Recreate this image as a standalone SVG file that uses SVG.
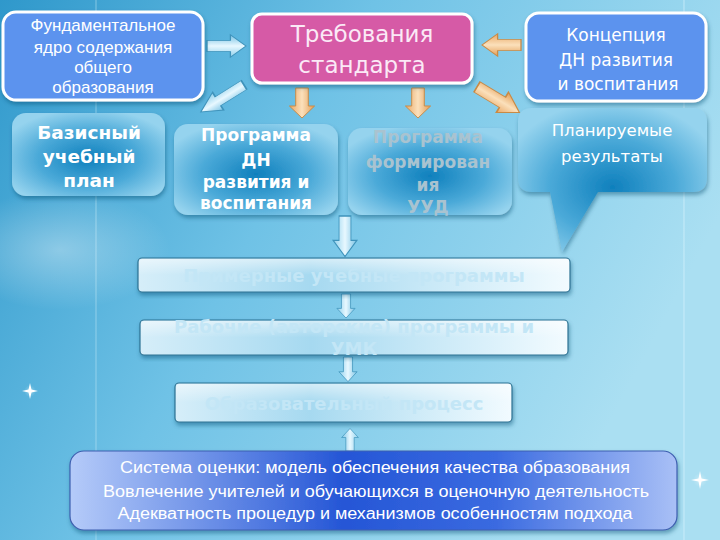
<svg xmlns="http://www.w3.org/2000/svg" width="720" height="540" viewBox="0 0 720 540">
<defs>
  <linearGradient id="bg" x1="0" y1="0" x2="1" y2="0.4">
    <stop offset="0" stop-color="#2f98cb"/>
    <stop offset="0.45" stop-color="#6fc2e6"/>
    <stop offset="1" stop-color="#aadff2"/>
  </linearGradient>
  <radialGradient id="glow" cx="0.5" cy="0.5" r="0.5">
    <stop offset="0" stop-color="#ffffff" stop-opacity="0.35"/>
    <stop offset="1" stop-color="#ffffff" stop-opacity="0"/>
  </radialGradient>
  <radialGradient id="tile" cx="0.5" cy="0.55" r="0.6">
    <stop offset="0" stop-color="#0f80bd"/>
    <stop offset="0.55" stop-color="#4aa9d8"/>
    <stop offset="1" stop-color="#95d3ee"/>
  </radialGradient>
  <linearGradient id="bar" x1="0" y1="0" x2="1" y2="0">
    <stop offset="0" stop-color="#d6eef9"/>
    <stop offset="0.4" stop-color="#a6d9f0"/>
    <stop offset="1" stop-color="#f2fbff"/>
  </linearGradient>
  <linearGradient id="barV" x1="0" y1="0" x2="0" y2="1">
    <stop offset="0" stop-color="#ffffff" stop-opacity="0.5"/>
    <stop offset="0.5" stop-color="#ffffff" stop-opacity="0"/>
  </linearGradient>
  <linearGradient id="eval" x1="0" y1="0" x2="1" y2="0">
    <stop offset="0" stop-color="#b5cbf9"/>
    <stop offset="0.45" stop-color="#2556d6"/>
    <stop offset="0.7" stop-color="#3a6ae0"/>
    <stop offset="1" stop-color="#a9c0f6"/>
  </linearGradient>
  <linearGradient id="orange" x1="0" y1="0" x2="1" y2="0">
    <stop offset="0" stop-color="#e9a866"/>
    <stop offset="0.5" stop-color="#fbe0bb"/>
    <stop offset="1" stop-color="#e39d55"/>
  </linearGradient>
  <linearGradient id="blueArr" x1="0" y1="0" x2="1" y2="0">
    <stop offset="0" stop-color="#8fd0ec"/>
    <stop offset="0.5" stop-color="#e8f8ff"/>
    <stop offset="1" stop-color="#78c2e4"/>
  </linearGradient>
  <filter id="sh" x="-10%" y="-10%" width="120%" height="130%">
    <feDropShadow dx="1" dy="3" stdDeviation="2" flood-color="#0a4a70" flood-opacity="0.45"/>
  </filter>
  <path id="arrDown" d="M-7,0 H7 V18 H14 L0,30 L-14,18 H-7 Z"/>
  <style>
    .white-box{fill:#5b93ee;stroke:#ffffff;stroke-width:3;filter:url(#sh)}
    .pink{fill:#d65aa6;stroke:#ffffff;stroke-width:3;filter:url(#sh)}
    .tile{fill:url(#tile);filter:url(#sh)}
    .bar{fill:url(#bar);stroke:#2c7394;stroke-width:1.2;filter:url(#sh)}
    .eval{fill:url(#eval);stroke:#3d5fb0;stroke-width:1.2;filter:url(#sh)}
    .t{font-family:"Liberation Sans",Arial,sans-serif;fill:#ffffff;text-anchor:middle}
    .d{font-family:"DejaVu Sans",Verdana,sans-serif;text-anchor:middle}
    .b{font-family:"DejaVu Sans",Verdana,sans-serif;font-weight:bold;text-anchor:middle}
    .oa{fill:url(#orange);stroke:#c98a45;stroke-width:1}
    .ba{fill:url(#blueArr);stroke:#3f93bb;stroke-width:1}
  </style>
</defs>

<!-- background -->
<rect x="0" y="0" width="720" height="540" fill="url(#bg)"/>
<line x1="96" y1="0" x2="96" y2="540" stroke="#c8ecfa" stroke-opacity="0.5" stroke-width="1"/>
<line x1="684" y1="0" x2="684" y2="540" stroke="#e0f6ff" stroke-opacity="0.6" stroke-width="1"/>
<ellipse cx="60" cy="250" rx="110" ry="60" fill="url(#glow)"/>
<g id="sparkle1" fill="#ffffff">
  <circle cx="30" cy="391" r="6" fill="url(#glow)"/>
  <path d="M30,383 L31.5,389.5 L38,391 L31.5,392.5 L30,399 L28.5,392.5 L22,391 L28.5,389.5 Z"/>
</g>
<g id="sparkle2" fill="#ffffff">
  <circle cx="700" cy="480" r="7" fill="url(#glow)"/>
  <path d="M700,471 L701.5,478.5 L709,480 L701.5,481.5 L700,489 L698.5,481.5 L691,480 L698.5,478.5 Z"/>
</g>

<!-- connectors -->
<g id="connectors">
  <use href="#arrDown" class="ba" transform="translate(207,46) rotate(-90) scale(0.8,1.3)"/>
  <use href="#arrDown" class="oa" transform="translate(521,45) rotate(90) scale(0.8,1.3)"/>
  <use href="#arrDown" class="ba" transform="translate(244,85) rotate(58) scale(0.75,1.7)"/>
  <use href="#arrDown" class="oa" transform="translate(302,88) scale(0.9,1.0)"/>
  <use href="#arrDown" class="oa" transform="translate(418,88) scale(0.9,1.0)"/>
  <use href="#arrDown" class="oa" transform="translate(477,87) rotate(-59) scale(0.85,1.65)"/>
  <use href="#arrDown" class="ba" transform="translate(345,216) scale(0.85,1.35)"/>
  <use href="#arrDown" class="ba" transform="translate(346,294) scale(0.65,0.8)"/>
  <use href="#arrDown" class="ba" transform="translate(348,357) scale(0.65,0.82)"/>
  <use href="#arrDown" class="ba" transform="translate(350,451) rotate(180) scale(0.6,0.75)"/>
</g>

<!-- nodes -->
<g id="fundamental">
  <rect class="white-box" x="3" y="12" width="200" height="88" rx="13"/>
  <text class="t" font-size="17"><tspan x="103" y="31">Фундаментальное</tspan><tspan x="103" y="53">ядро содержания</tspan><tspan x="103" y="73">общего</tspan><tspan x="103" y="93">образования</tspan></text>
</g>

<g id="standard">
  <rect class="pink" x="252" y="14" width="220" height="69" rx="10"/>
  <text class="d" font-size="23" fill="#fbe9f6"><tspan x="362" y="42">Требования</tspan><tspan x="362" y="73">стандарта</tspan></text>
</g>

<g id="concept">
  <rect class="white-box" x="526" y="13" width="180" height="88" rx="13"/>
  <text class="d" font-size="17" fill="#ffffff"><tspan x="616" y="41">Концепция</tspan><tspan x="616" y="66">ДН развития</tspan><tspan x="618" y="90">и воспитания</tspan></text>
</g>

<g id="basic-plan">
  <rect class="tile" x="12" y="113" width="153" height="83" rx="14"/>
  <text class="b" font-size="18.5" fill="#ffffff"><tspan x="89" y="139">Базисный</tspan><tspan x="89" y="163">учебный</tspan><tspan x="89" y="187">план</tspan></text>
</g>

<g id="program-dn">
  <rect class="tile" x="174" y="124" width="164" height="91" rx="14"/>
  <text class="b" font-size="17" fill="#ffffff"><tspan x="256" y="141">Программа</tspan><tspan x="256" y="166">ДН</tspan><tspan x="256" y="188">развития и</tspan><tspan x="256" y="209">воспитания</tspan></text>
</g>

<g id="program-uud">
  <rect class="tile" x="348" y="128" width="164" height="87" rx="14"/>
  <text class="b" font-size="17" fill="#a9c3d0"><tspan x="428" y="143">Программа</tspan><tspan x="428" y="168">формирован</tspan><tspan x="428" y="191">ия</tspan><tspan x="428" y="213">УУД</tspan></text>
</g>

<g id="planned-results">
  <path class="tile" d="M532,108 H693 Q707,108 707,122 V178 Q707,192 693,192 H598 L562,252 L550,192 H532 Q518,192 518,178 V122 Q518,108 532,108 Z"/>
  <text class="d" font-size="16.5" fill="#ffffff"><tspan x="612" y="136">Планируемые</tspan><tspan x="612" y="162">результаты</tspan></text>
</g>

<g id="sample-programs">
  <rect class="bar" x="138" y="258" width="432" height="34" rx="4"/>
  <rect x="139" y="259" width="430" height="32" rx="4" fill="url(#barV)"/>
  <text class="b" font-size="18" fill="#c3e6f6" x="354" y="282">Примерные учебные программы</text>
</g>

<g id="work-programs">
  <rect class="bar" x="140" y="320" width="428" height="35" rx="4"/>
  <rect x="141" y="321" width="426" height="33" rx="4" fill="url(#barV)"/>
  <text class="b" font-size="18" fill="#c3e6f6"><tspan x="354" y="333">Рабочие (авторские) программы и</tspan><tspan x="354" y="355">УМК</tspan></text>
</g>

<g id="edu-process">
  <rect class="bar" x="175" y="383" width="337" height="39" rx="4"/>
  <rect x="176" y="384" width="335" height="37" rx="4" fill="url(#barV)"/>
  <text class="b" font-size="18" fill="#c3e6f6" x="344" y="410">Образовательный процесс</text>
</g>

<g id="evaluation">
  <rect class="eval" x="70" y="451" width="607" height="79" rx="14"/>
  <text class="t" font-size="16"><tspan x="375" y="473" textLength="510" lengthAdjust="spacingAndGlyphs">Система оценки: модель обеспечения качества образования</tspan><tspan x="376" y="497" textLength="546" lengthAdjust="spacingAndGlyphs">Вовлечение учителей и обучающихся в оценочную деятельность</tspan><tspan x="375" y="519" textLength="515" lengthAdjust="spacingAndGlyphs">Адекватность процедур и механизмов особенностям подхода</tspan></text>
</g>
</svg>
